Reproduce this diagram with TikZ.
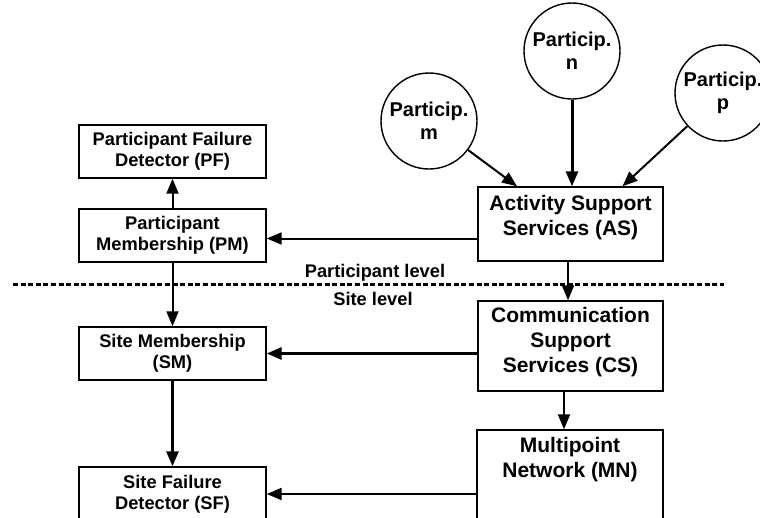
\documentclass[tikz,border=0pt]{standalone}
\usepackage{fontspec}
\setmainfont{Liberation Sans}
\usetikzlibrary{arrows.meta,calc}
\begin{document}
\begin{tikzpicture}[x=1pt,y=-1pt,
  box/.style={draw,line width=1.4pt,inner sep=0pt,fill=white},
  circ/.style={draw,circle,line width=1.4pt,minimum size=96pt,inner sep=0pt,align=center,font=\bfseries\fontsize{20}{23}\selectfont},
  small/.style={align=center,font=\bfseries\fontsize{18.3}{21}\selectfont,inner sep=0pt},
  big/.style={align=center,font=\bfseries\fontsize{21}{25}\selectfont,inner sep=0pt},
  arr/.style={line width=2pt,-{Triangle[length=15pt,width=12pt]}},
  tarr/.style={line width=3pt,-{Triangle[length=15pt,width=12pt]}},
  levelline/.style={line width=3pt,dash pattern=on 5pt off 2.6pt}]
\useasboundingbox (0,0) rectangle (760,517);
\clip (0,0) rectangle (760,517);

% left column: membership and failure detectors
\node[box,minimum width=187pt,minimum height=53pt] (pf) at (172.5,151.5) {};
\node[small] (pft) at (pf) {Participant Failure\\Detector (PF)};
\node[box,minimum width=187pt,minimum height=53pt] (pm) at (172.5,235.5) {};
\node[small] (pmt) at (pm) {Participant\\Membership (PM)};
\node[box,minimum width=187pt,minimum height=53pt] (sm) at (172.5,353.5) {};
\node[small] (smt) at (sm) {Site Membership\\(SM)};
\node[box,minimum width=187pt,minimum height=70pt] (sf) at (172.5,502) {};
\node[small] (sft) at (172.5,494.5) {Site Failure\\Detector (SF)};

% right column: services and network
\node[box,minimum width=185pt,minimum height=74pt] (as) at (570.5,224) {};
\node[big] (ast) at (570.5,217.5) {Activity Support\\Services (AS)};
\node[box,minimum width=185pt,minimum height=90pt] (cs) at (570.5,346) {};
\node[big] (cst) at (570.5,342.5) {Communication\\Support\\Services (CS)};
\node[box,minimum width=186pt,minimum height=110pt] (mn) at (570,485) {};
\node[big] (mnt) at (570,459.5) {Multipoint\\Network (MN)};

% participants
\node[circ] (m) at (429,121) {Particip.\\m};
\node[circ] (n) at (572,51) {Particip.\\n};
\node[circ] (p) at (723,93) {Particip.\\p};

% level separator
\coordinate (ll) at (13,284);
\coordinate (lr) at (724,284);
\draw[levelline] (ll) -- (lr);
\node[small] (plev) at (375,273) {Participant level};
\node[small] (slev) at (373,299) {Site level};

% connectors
\draw[arr] (m) -- ([xshift=-53.5pt]as.north);
\draw[tarr] (n) -- (n |- as.north);
\draw[arr] (p) -- ([xshift=52pt]as.north);
\draw[arr] ([yshift=-14.5pt]as.west) -- ([yshift=-14.5pt]as.west -| pm.east);
\draw[arr] (pm) -- (pf);
\draw[arr] ([xshift=-2.5pt]as.south) -- ([xshift=-2.5pt]cs.north);
\draw[arr] (pm) -- (sm);
\draw[tarr] (cs.west |- sm.east) -- (sm.east);
\draw[tarr] (sm) -- (sf);
\draw[arr] ([xshift=-6.5pt]cs.south) -- ([xshift=-6.5pt]cs.south |- mn.north);
\draw[arr] ([yshift=-9pt]mn.west) -- ([yshift=-9pt]mn.west -| sf.east);
\end{tikzpicture}
\end{document}
